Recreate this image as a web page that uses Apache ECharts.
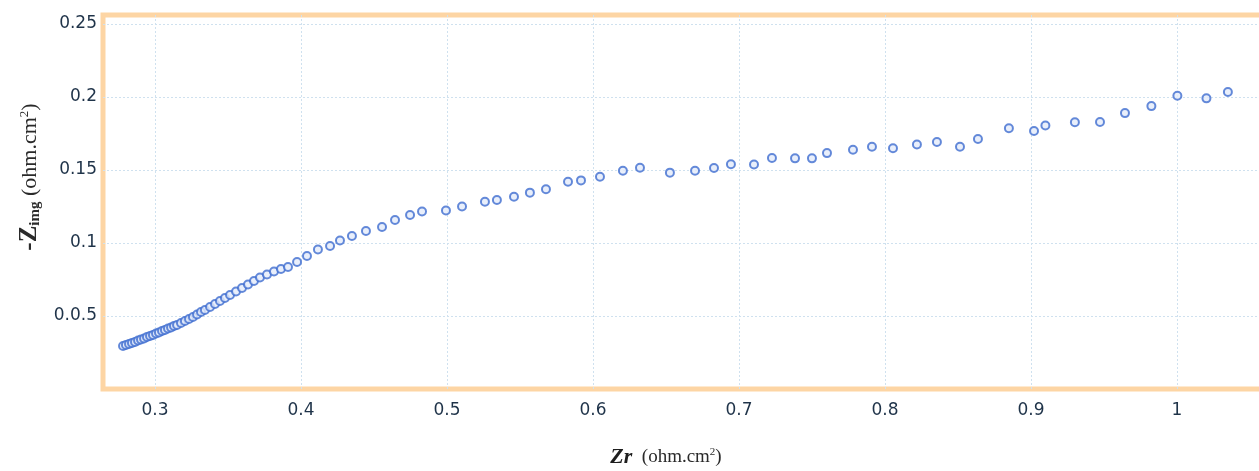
<!DOCTYPE html>
<html>
<head>
<meta charset="utf-8">
<script src="https://cdn.jsdelivr.net/npm/echarts@6/dist/echarts.min.js"></script>
<style>
html,body{margin:0;padding:0;background:#fff;overflow:hidden;}
#chart{width:1259px;height:471px;}
</style>
</head>
<body>
<div id="chart"></div>
<script>
// Real part Zr (ohm.cm^2)
const zr = [
  0.2781,0.2801,0.2822,0.2842,0.2863,0.2884,0.2904,0.2925,0.2945,0.2966,
  0.2986,0.3007,0.3027,0.3048,0.3068,0.3089,0.3110,0.3130,0.3151,0.3178,
  0.3205,0.3233,0.3260,0.3288,0.3315,0.3342,0.3377,0.3411,0.3445,0.3479,
  0.3514,0.3555,0.3596,0.3637,0.3678,0.3719,0.3767,0.3815,0.3863,0.3911,
  0.3973,0.4041,0.4116,0.4199,0.4267,0.4349,0.4445,0.4555,0.4644,0.4747,
  0.4829,0.4993,0.5103,0.5260,0.5342,0.5459,0.5568,0.5678,0.5829,0.5918,
  0.6048,0.6205,0.6322,0.6527,0.6699,0.6829,0.6945,0.7103,0.7226,0.7384,
  0.7500,0.7603,0.7781,0.7911,0.8055,0.8219,0.8356,0.8514,0.8637,0.8849,
  0.9021,0.9099,0.9301,0.9473,0.9644,0.9825,1.0003,1.0202,1.0349
];
// Imaginary part -Zimg (ohm.cm^2)
const zimg = [
  0.0295,0.0301,0.0308,0.0315,0.0322,0.0332,0.0339,0.0346,0.0356,0.0363,
  0.0370,0.0380,0.0387,0.0397,0.0404,0.0414,0.0421,0.0432,0.0438,0.0452,
  0.0466,0.0479,0.0493,0.0510,0.0527,0.0541,0.0562,0.0582,0.0603,0.0623,
  0.0644,0.0668,0.0692,0.0716,0.0740,0.0764,0.0784,0.0805,0.0822,0.0836,
  0.0870,0.0911,0.0955,0.0979,0.1017,0.1048,0.1082,0.1110,0.1158,0.1192,
  0.1216,0.1223,0.1250,0.1283,0.1295,0.1317,0.1345,0.1368,0.1420,0.1429,
  0.1454,0.1495,0.1516,0.1482,0.1495,0.1514,0.1540,0.1538,0.1582,0.1580,
  0.1580,0.1616,0.1639,0.1660,0.1649,0.1675,0.1692,0.1660,0.1712,0.1786,
  0.1767,0.1805,0.1827,0.1829,0.1890,0.1938,0.2009,0.1991,0.2034
];
const xTickValues = [0.3,0.4,0.5,0.6,0.7,0.8,0.9,1.0];
const xTickLabels = ['0.3','0.4','0.5','0.6','0.7','0.8','0.9','1'];
const yTickValues = [0.05,0.1,0.15,0.2,0.25];
const yTickLabels = ['0.0.5','0.1','0.15','0.2','0.25'];

const points = zr.map((x,i)=>[x, zimg[i]]);
const labelColor = '#1f3349';
const gridColor = '#cfe1ef';

function fmt(values, labels){
  return function(v){
    for (let i=0;i<values.length;i++){ if (Math.abs(values[i]-v)<1e-6) return labels[i]; }
    return '';
  };
}

const chart = echarts.init(document.getElementById('chart'), null, {renderer:'canvas'});
chart.setOption({
  animation:false,
  backgroundColor:'#ffffff',
  grid:{left:103, width:1170, top:15, bottom:82, outerBoundsMode:'none', containLabel:false,
        show:true, borderWidth:5, borderColor:'#fdd5a4', backgroundColor:'transparent'},
  xAxis:{
    type:'value', min:0.26438, max:1.0658,
    axisLine:{show:false}, axisTick:{show:false, customValues:xTickValues},
    axisLabel:{customValues:xTickValues, formatter:fmt(xTickValues,xTickLabels), color:labelColor, fontFamily:'DejaVu Sans', fontSize:17, margin:13},
    splitLine:{show:true, lineStyle:{color:gridColor, type:[2,2], width:1}}
  },
  yAxis:{
    type:'value', min:0, max:0.2562,
    axisLine:{show:false}, axisTick:{show:false, customValues:yTickValues},
    axisLabel:{customValues:yTickValues, formatter:fmt(yTickValues,yTickLabels), color:labelColor, fontFamily:'DejaVu Sans', fontSize:17, margin:6},
    splitLine:{show:true, lineStyle:{color:gridColor, type:[2,2], width:1}}
  },
  graphic:[
    {type:'text', x:30, y:177, rotation:Math.PI/2,
     style:{text:'{a|-Z}{s|img}{b| (ohm.cm}{p|2}{b|)}', align:'center', verticalAlign:'middle',
       rich:{
         a:{fontFamily:'Liberation Serif', fontSize:25, fontWeight:'bold', fill:'#2a2a2a'},
         s:{fontFamily:'Liberation Serif', fontSize:15, fontWeight:'bold', fill:'#2a2a2a', verticalAlign:'bottom', padding:[11,0,0,0]},
         b:{fontFamily:'Liberation Serif', fontSize:22, fill:'#2a2a2a'},
         p:{fontFamily:'Liberation Serif', fontSize:13, fill:'#2a2a2a', padding:[0,0,11,0]}
       }}},
    {type:'text', x:666, y:457,
     style:{text:'{a|Zr}{b|  (ohm.cm}{p|2}{b|)}', align:'center', verticalAlign:'middle',
       rich:{
         a:{fontFamily:'Liberation Serif', fontSize:22, fontWeight:'bold', fontStyle:'italic', fill:'#1e1e1e'},
         b:{fontFamily:'Liberation Serif', fontSize:19, fill:'#2a2a2a'},
         p:{fontFamily:'Liberation Serif', fontSize:11, fill:'#2a2a2a', padding:[0,0,10,0]}
       }}}
  ],
  series:[{
    type:'scatter', data:points, symbol:'circle', symbolSize:8,
    itemStyle:{color:'#e4ebfa', borderColor:'#3f6dd0', borderWidth:2}
  }]
});
</script>
</body>
</html>
